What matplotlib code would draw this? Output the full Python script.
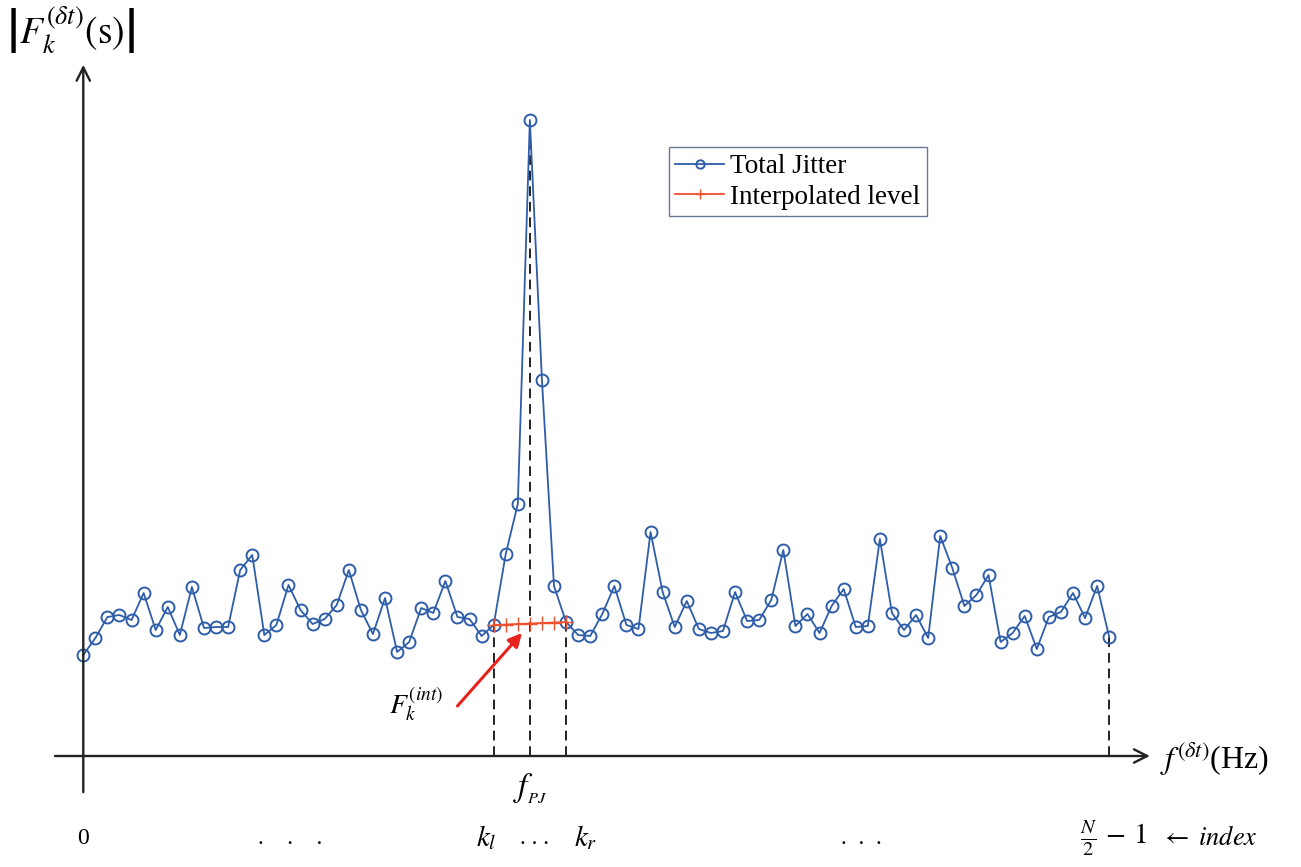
import numpy as np
import matplotlib
matplotlib.use("Agg")
import matplotlib.pyplot as plt

plt.rcParams['font.family'] = ['Liberation Serif', 'DejaVu Serif']
plt.rcParams['mathtext.fontset'] = 'stix'

# Spectrum magnitude per bin (arbitrary units), bins 0 .. N/2-1
total_jitter = [101, 118, 139, 141, 136, 163, 126, 149, 121, 169,
                128, 129, 129, 186, 201, 121, 131, 171, 146, 132,
                137, 151, 186, 146, 122, 158, 104, 114, 148, 143,
                175, 139, 137, 120, 131, 202, 252, 636, 376, 170,
                134, 121, 120, 142, 170, 131, 127, 224, 164, 129,
                155, 127, 123, 125, 164, 135, 136, 156, 206, 130,
                142, 123, 150, 167, 129, 130, 217, 143, 126, 141,
                118, 220, 188, 150, 161, 181, 114, 123, 140, 107,
                139, 144, 163, 138, 170, 119]
k_index = np.arange(len(total_jitter))

# interpolated level between k_l and k_r
k_l, k_pj, k_r = 34, 37, 40
interp_bins = [34, 35, 36, 37, 38, 39, 40]
interp_level = [131, 131.5, 132, 132.5, 133, 133.5, 134]

blue = '#2E5DAA'
red = '#F0502D'

fig = plt.figure(figsize=(13.01, 8.67), dpi=100)
ax = fig.add_axes([0, 0, 1, 1])
ax.set_xlim(-6.90, 100.89)
ax.set_ylim(-111, 756)
ax.axis('off')

# dashed markers down to the axis
last = len(total_jitter) - 1
for k in [k_l, k_pj, k_r, last]:
    ax.plot([k, k], [0, total_jitter[k]], color='#222222', lw=1.4,
            ls=(0, (5, 3)), zorder=1)

l1, = ax.plot(k_index, total_jitter, color=blue, lw=1.3, marker='o',
              ms=8.6, mfc='none', mec=blue, mew=1.4, label='Total Jitter', zorder=3)
l2, = ax.plot(interp_bins, interp_level, color=red, lw=1.3, marker='+',
              ms=10, mew=1.0, label='Interpolated level', zorder=4)

# axes with arrows
ax.annotate('', xy=(0, 694), xytext=(0, -39),
            arrowprops=dict(arrowstyle='->', lw=1.7, color='#222222',
                            mutation_scale=24))
ax.annotate('', xy=(88.6, 0), xytext=(-2.57, 0),
            arrowprops=dict(arrowstyle='->', lw=1.7, color='#222222',
                            mutation_scale=24))

ax.text(-1.1, 726, r'$\left|F_k^{(\delta t)}(\mathrm{s})\right|$', fontsize=27,
        ha='center', va='center')
ax.text(89.2, -3, r'$f^{(\delta t)}$(Hz)', fontsize=23, ha='left', va='center')

ax.text(k_pj, -33, r'$f_{_{PJ}}$', fontsize=24, ha='center', va='center')

ax.text(0, -82, '0', fontsize=17, ha='center', va='center')
ax.text(17.1, -82, '.    .    .', fontsize=17, ha='center', va='center')
ax.text(33.4, -82, r'$k_l$', fontsize=21, ha='center', va='center')
ax.text(37.4, -82, '. . .', fontsize=17, ha='center', va='center')
ax.text(41.6, -82, r'$k_r$', fontsize=21, ha='center', va='center')
ax.text(64.5, -82, '.  .  .', fontsize=17, ha='center', va='center')
ax.text(85.3, -82, r'$\frac{N}{2}\,-\,1$', fontsize=21, ha='center', va='center')
ax.text(93.3, -82, r'$\leftarrow\;\mathit{index}$', fontsize=19, ha='center', va='center')

ax.text(27.6, 52, r'$F_k^{(int)}$', fontsize=20, ha='center', va='center')
ax.annotate('', xy=(36.35, 123), xytext=(31.0, 50),
            arrowprops=dict(arrowstyle='-|>', color='#E8231E', lw=2.2,
                            mutation_scale=20, shrinkA=0, shrinkB=0))

leg = ax.legend(handles=[l1, l2], loc='upper left', bbox_to_anchor=(0.514, 0.830),
                bbox_transform=fig.transFigure, borderaxespad=0, fontsize=19.5,
                markerscale=0.7, fancybox=False, framealpha=1,
                edgecolor='#6A7894', handlelength=1.8, labelspacing=0.2,
                borderpad=0.25, handletextpad=0.2)
leg.get_frame().set_linewidth(1.0)

fig.savefig('out.png', dpi=100)
